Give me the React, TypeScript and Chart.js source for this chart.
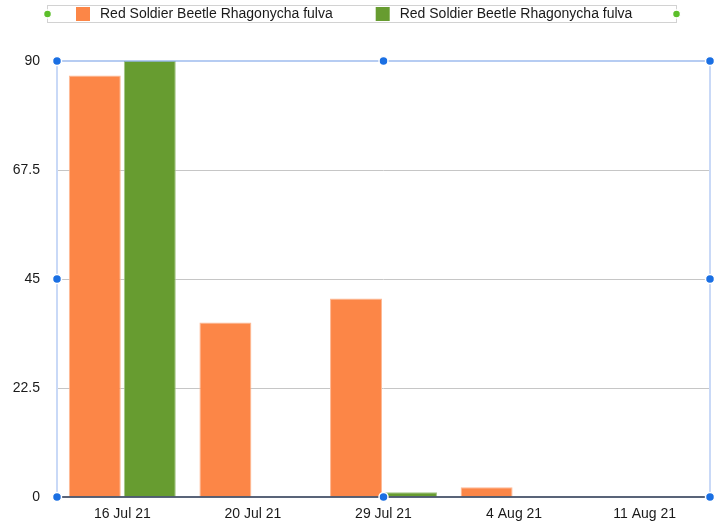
import React, { useEffect, useRef } from "react";
import { Chart, registerables } from "chart.js";
Chart.register(...registerables);

const categories = ["16 Jul 21", "20 Jul 21", "29 Jul 21", "4 Aug 21", "11 Aug 21"];
const seriesNames = ["Red Soldier Beetle Rhagonycha fulva", "Red Soldier Beetle Rhagonycha fulva"];
const orangeValues = [87, 36, 41, 2, 0];
const greenValues = [90, 0, 1, 0, 0];
const yTickValues = [0, 22.5, 45, 67.5, 90];

const ORANGE = "#fc8647";
const GREEN = "#679c30";
const FONT = '"Liberation Sans", Arial, Helvetica, sans-serif';

const framePlugin = {
  id: "frame",
  afterDatasetsDraw(chart: any) {
    const { ctx, chartArea } = chart;
    const { left, right, top, bottom } = chartArea;
    const line = (x1: number, y1: number, x2: number, y2: number) => {
      ctx.beginPath();
      ctx.moveTo(x1, y1);
      ctx.lineTo(x2, y2);
      ctx.stroke();
    };
    ctx.save();
    ctx.strokeStyle = "#c9d9f7";
    ctx.lineWidth = 2;
    line(left, top, left, bottom);
    line(right, top, right, bottom);
    ctx.strokeStyle = "#6e9ae6";
    ctx.lineWidth = 1.2;
    line(left, top, right, top);
    ctx.strokeStyle = "#22304d";
    ctx.lineWidth = 1.5;
    line(left, bottom, right, bottom);
    const mx = (left + right) / 2;
    const my = (top + bottom) / 2;
    const pts = [
      [left, top], [mx, top], [right, top],
      [left, my], [right, my],
      [left, bottom], [mx, bottom], [right, bottom],
    ];
    for (const [x, y] of pts) {
      ctx.beginPath();
      ctx.arc(x, y, 4.5, 0, Math.PI * 2);
      ctx.fillStyle = "#1a6fe3";
      ctx.fill();
      ctx.lineWidth = 1.5;
      ctx.strokeStyle = "#ffffff";
      ctx.stroke();
    }
    ctx.restore();
  },
};

const legendPlugin = {
  id: "customLegend",
  afterDraw(chart: any) {
    const { ctx } = chart;
    ctx.save();
    const bx1 = 47.5, bx2 = 676.5, by1 = 5.5, by2 = 22.5;
    const cy = (by1 + by2) / 2;
    ctx.strokeStyle = "#d2d2d2";
    ctx.lineWidth = 1;
    ctx.strokeRect(bx1, by1, bx2 - bx1, by2 - by1);
    ctx.font = `14px ${FONT}`;
    ctx.textBaseline = "middle";
    ctx.fillStyle = "#1a1a1a";
    let x = 76;
    chart.data.datasets.forEach((ds: any) => {
      ctx.fillStyle = ds.backgroundColor;
      ctx.fillRect(x, 7, 14, 14);
      ctx.fillStyle = "#1a1a1a";
      ctx.fillText(ds.label, x + 24, cy + 0.5);
      const w = ctx.measureText(ds.label).width;
      x = x + 24 + w + 43;
    });
    for (const dx of [bx1, bx2]) {
      ctx.beginPath();
      ctx.arc(dx, cy, 4, 0, Math.PI * 2);
      ctx.fillStyle = "#5cbf2a";
      ctx.fill();
      ctx.lineWidth = 1.5;
      ctx.strokeStyle = "#ffffff";
      ctx.stroke();
    }
    ctx.restore();
  },
};

function App() {
  const ref = useRef<HTMLCanvasElement>(null);
  useEffect(() => {
    if (!ref.current) return;
    const chart = new Chart(ref.current, {
      type: "bar",
      data: {
        labels: categories,
        datasets: [
          {
            label: seriesNames[0],
            data: orangeValues,
            backgroundColor: ORANGE,
            borderColor: "#fdb995",
            borderWidth: 1,
            categoryPercentage: 0.842,
            barPercentage: 0.945,
          },
          {
            label: seriesNames[1],
            data: greenValues,
            backgroundColor: GREEN,
            borderColor: "#a3c585",
            borderWidth: 1,
            categoryPercentage: 0.842,
            barPercentage: 0.945,
          },
        ],
      },
      options: {
        responsive: false,
        animation: false,
        layout: { padding: { top: 61, right: 12, bottom: 0, left: 0 } },
        plugins: {
          legend: { display: false },
          tooltip: { enabled: false },
        },
        scales: {
          x: {
            grid: { display: false },
            border: { display: false },
            ticks: {
              color: "#1a1a1a",
              font: { family: FONT, size: 14 },
              padding: 1,
              maxRotation: 0,
            },
            afterFit(scale: any) {
              scale.height = 27;
            },
          },
          y: {
            min: 0,
            max: 90,
            border: { display: false },
            grid: {
              color: (c: any) =>
                c.tick && (c.tick.value === 0 || c.tick.value === 90) ? "rgba(0,0,0,0)" : "#c6c6c6",
              drawTicks: false,
              lineWidth: 1,
            },
            afterBuildTicks(scale: any) {
              scale.ticks = yTickValues.map((v) => ({ value: v }));
            },
            ticks: {
              color: "#1a1a1a",
              font: { family: FONT, size: 14 },
              padding: 17,
              callback: (v: any) => String(v),
            },
            afterFit(scale: any) {
              scale.width = 57;
            },
          },
        },
      },
      plugins: [framePlugin, legendPlugin],
    });
    return () => chart.destroy();
  }, []);
  return (
    <div style={{ position: "absolute", left: 0, top: 0, width: 722, height: 524, background: "#fff" }}>
      <canvas ref={ref} width={722} height={524} style={{ display: "block" }} />
    </div>
  );
}

export default App;
